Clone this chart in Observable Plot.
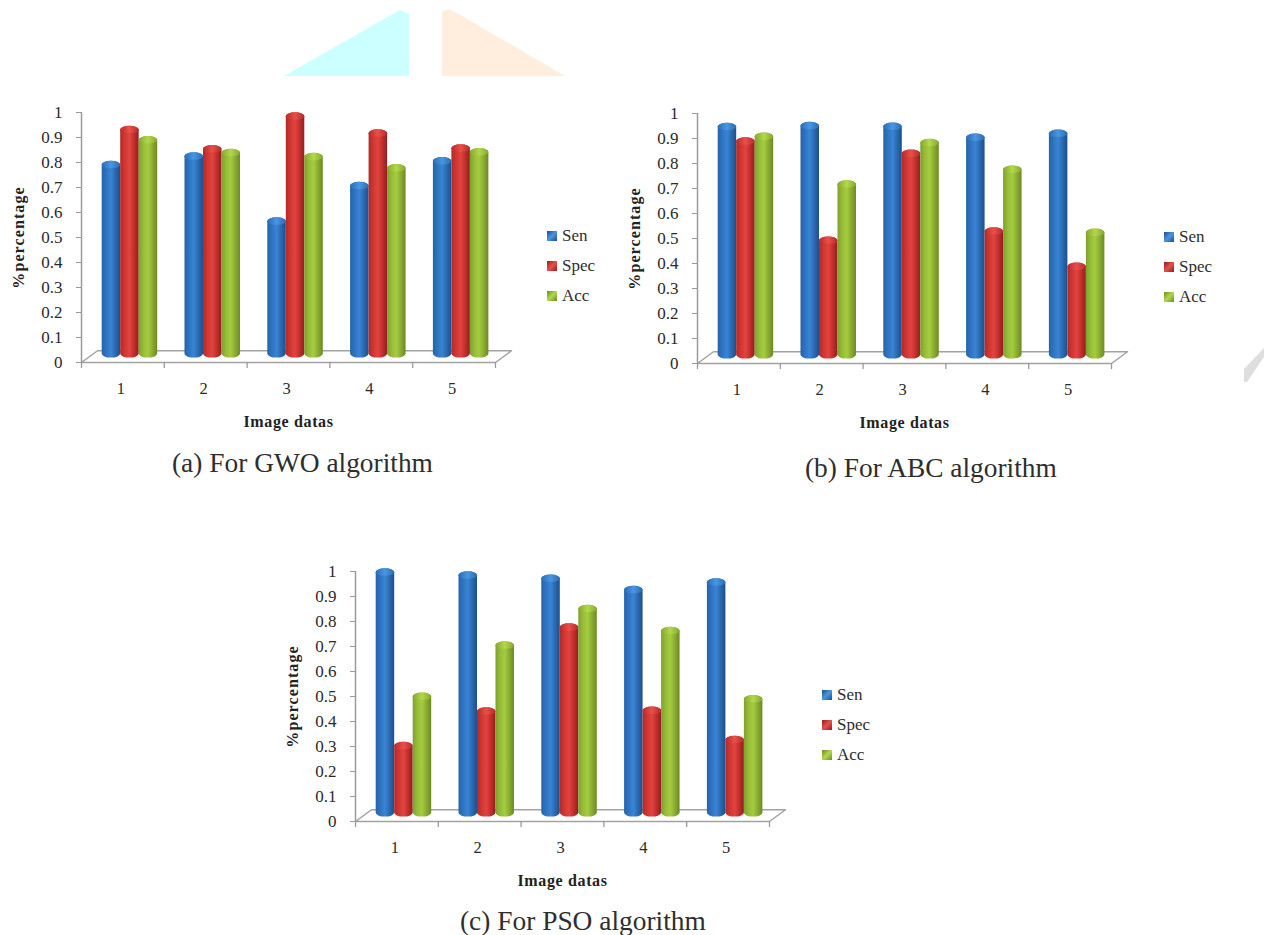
<!DOCTYPE html>
<html>
<head>
<meta charset="utf-8">
<script src="https://cdn.jsdelivr.net/npm/d3@7"></script>
<script src="https://cdn.jsdelivr.net/npm/@observablehq/plot@0.6"></script>
<style>
  html, body { margin: 0; padding: 0; background: #fff; }
  body { position: relative; width: 1264px; height: 935px; overflow: hidden; font-family: "Liberation Serif", serif; color: #333; }
  .chart { position: absolute; }
  .chart svg { overflow: visible; background: transparent; }
  .caption { position: absolute; font-size: 27.4px; line-height: 30px; white-space: nowrap; color: #2e2e2e; }
  .legend { position: absolute; font-size: 17px; color: #2e2e2e; }
  .legend div { position: absolute; left: 0; white-space: nowrap; line-height: 20px; height: 20px; }
  .legend i { position: absolute; left: 0; top: 5px; width: 10px; height: 10px; }
  .legend span { position: absolute; left: 15px; top: 0; }
  .name-x { letter-spacing: 0.65px; }
  .name-y { letter-spacing: 1.1px; }
  .ornament { position: absolute; }
</style>
</head>
<body>
<svg width="0" height="0" style="position:absolute">
  <defs id="paints"></defs>
</svg>
<div id="page"></div>
<script>
// Image numbers and measures shown in every panel
const images = [1, 2, 3, 4, 5];
const metrics = ["Sen", "Spec", "Acc"];
const yTicks = [0, 0.1, 0.2, 0.3, 0.4, 0.5, 0.6, 0.7, 0.8, 0.9, 1];

// GWO results
const gwoSen  = [0.787, 0.821, 0.561, 0.703, 0.802];
const gwoSpec = [0.927, 0.850, 0.981, 0.913, 0.853];
const gwoAcc  = [0.886, 0.835, 0.819, 0.774, 0.838];

// ABC results
const abcSen  = [0.943, 0.947, 0.944, 0.900, 0.916];
const abcSpec = [0.885, 0.488, 0.836, 0.525, 0.384];
const abcAcc  = [0.904, 0.713, 0.879, 0.772, 0.520];

// PSO results
const psoSen  = [0.993, 0.981, 0.968, 0.923, 0.953];
const psoSpec = [0.299, 0.437, 0.773, 0.440, 0.323];
const psoAcc  = [0.496, 0.701, 0.847, 0.759, 0.486];

// Cylinder shading, one gradient for the body and one for the cap of each measure
const shades = {
  Sen:  {body: ["#2563a8", "#2f74c2", "#3a84d4", "#2a69b0", "#1c4f8c"], cap: ["#2a6cb8", "#4a96e0", "#2a6cb8"]},
  Spec: {body: ["#b02a28", "#d23632", "#e04440", "#c22e2c", "#8e201e"], cap: ["#b82a28", "#e8504a", "#b82a28"]},
  Acc:  {body: ["#7f9f2c", "#97bd38", "#a4cc40", "#8aab30", "#6a8a24"], cap: ["#86a82e", "#b2d84c", "#86a82e"]}
};
const stops = (colors) => colors.map((c, i) =>
  `<stop offset="${i / (colors.length - 1)}" stop-color="${c}"/>`).join("");
document.getElementById("paints").innerHTML = metrics.map((m) => `
  <linearGradient id="body${m}" x1="0" x2="1" y1="0" y2="0">${stops(shades[m].body)}</linearGradient>
  <linearGradient id="cap${m}" x1="0" x2="1" y1="0" y2="0">${stops(shades[m].cap)}</linearGradient>`).join("");

const barStep = 0.2234;    // bar width in x units
const depthX = 0.085;      // the bars stand partway back on the floor
const capHeight = 0.03;
const floorX = 0.193, floorY = 0.047;
const slotEdges = [0.5, 1.5, 2.5, 3.5, 4.5, 5.5];

function panel({left, top, sen, spec, acc}) {
  const rows = metrics.flatMap((m, k) => {
    const values = [sen, spec, acc][k];
    return images.map((image, i) => ({
      metric: m,
      value: values[i],
      x1: image + depthX + (k - 1.5) * barStep,
      x2: image + depthX + (k - 0.5) * barStep
    }));
  });
  const floor = [
    [slotEdges[0], 0], [slotEdges[5], 0],
    [slotEdges[5] + floorX, floorY], [slotEdges[0] + floorX, floorY], [slotEdges[0], 0]
  ];
  const barMarks = metrics.flatMap((m) => {
    const sub = rows.filter((d) => d.metric === m);
    return [
      Plot.rectY(sub, {x1: "x1", x2: "x2", y1: 0, y2: "value", dy: -4.4, rx: 9, ry: 4, fill: `url(#body${m})`}),
      Plot.rectY(sub, {x1: "x1", x2: "x2", y1: (d) => d.value - capHeight, y2: "value", dy: -4.4, rx: 9, ry: 3.7, fill: `url(#cap${m})`})
    ];
  });
  const plot = Plot.plot({
    width: 524,
    height: 332,
    marginLeft: 70,
    marginRight: 40,
    marginTop: 12,
    marginBottom: 70,
    style: {fontFamily: "'Liberation Serif', serif", fontSize: "16.5px", background: "transparent", color: "#333", overflow: "visible"},
    x: {domain: [0.5, 5.5]},
    y: {domain: [0, 1]},
    marks: [
      Plot.line(floor, {x: (d) => d[0], y: (d) => d[1], stroke: "#a2a2a2", strokeWidth: 1.5}),
      Plot.ruleX(slotEdges, {y1: 0, y2: -0.024, stroke: "#9a9a9a", strokeWidth: 1.3}),
      Plot.ruleX([0.5], {y1: 0, y2: 1, stroke: "#9a9a9a", strokeWidth: 1.5}),
      ...barMarks,
      Plot.axisY({ticks: yTicks, tickSize: 5, tickPadding: 14, stroke: "#9a9a9a", fill: "#2a2a2a", fontSize: 17, label: null, tickFormat: (d) => `${d}`}),
      Plot.axisX({ticks: images, tickSize: 0, tickPadding: 20, dx: -2, fill: "#2a2a2a", fontSize: 16.5, label: null, tickFormat: (d) => `${d}`}),
      Plot.text(["%percentage"], {frameAnchor: "left", textAnchor: "middle", rotate: -90, dx: -63, fontWeight: "bold", fontSize: 16, fill: "#222", className: "name-y"}),
      Plot.text(["Image datas"], {frameAnchor: "bottom", dy: 64, fontWeight: "bold", fontSize: 16, fill: "#222", className: "name-x"})
    ]
  });
  const holder = document.createElement("div");
  holder.className = "chart";
  holder.style.left = `${left - 70}px`;
  holder.style.top = `${top - 12}px`;
  holder.appendChild(plot);
  document.getElementById("page").appendChild(holder);
}

function legend(left, centers) {
  const box = document.createElement("div");
  box.className = "legend";
  box.style.left = `${left}px`;
  box.style.top = "0px";
  box.innerHTML = metrics.map((m, i) => `
    <div style="top:${centers[i] - 10}px"><i style="background:linear-gradient(135deg, ${shades[m].body[4]}, ${shades[m].cap[1]} 50%, ${shades[m].body[4]})"></i><span>${m}</span></div>`).join("");
  document.getElementById("page").appendChild(box);
}

function caption(text, left, centerY) {
  const el = document.createElement("div");
  el.className = "caption";
  el.textContent = text;
  el.style.left = `${left}px`;
  el.style.top = `${centerY - 15}px`;
  document.getElementById("page").appendChild(el);
}

function ornament(color, points) {
  const xs = points.map((p) => p[0]), ys = points.map((p) => p[1]);
  const x0 = Math.min(...xs), y0 = Math.min(...ys);
  const el = document.createElement("div");
  el.className = "ornament";
  el.style.cssText = `left:${x0}px;top:${y0}px;width:${Math.max(...xs) - x0}px;height:${Math.max(...ys) - y0}px;background:${color};` +
    `clip-path:polygon(${points.map((p) => `${p[0] - x0}px ${p[1] - y0}px`).join(",")})`;
  document.getElementById("page").appendChild(el);
}

// Letterhead corner shapes behind the figure
ornament("#ccffff", [[284, 76], [400, 10], [409, 14], [409, 76]]);
ornament("#ffeedd", [[442, 12], [448, 9], [455, 12], [565, 76], [442, 76]]);
ornament("#dedede", [[1244, 369], [1264, 348], [1264, 357], [1247, 382], [1244, 382]]);

panel({left: 81, top: 112, sen: gwoSen, spec: gwoSpec, acc: gwoAcc});
panel({left: 697, top: 113, sen: abcSen, spec: abcSpec, acc: abcAcc});
panel({left: 355, top: 571, sen: psoSen, spec: psoSpec, acc: psoAcc});

legend(547, [235.5, 265.5, 296]);
legend(1164, [236.7, 266.7, 296.7]);
legend(822, [695, 725, 755]);

caption("(a) For GWO algorithm", 172, 463);
caption("(b) For ABC algorithm", 805, 468);
caption("(c) For PSO algorithm", 460, 921);
</script>
</body>
</html>
